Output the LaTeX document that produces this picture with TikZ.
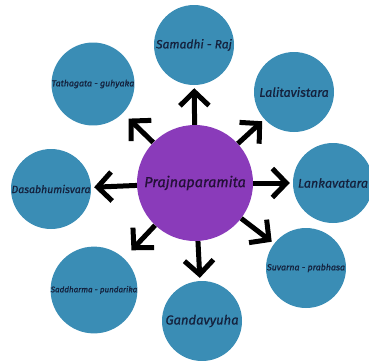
\documentclass[tikz,border=0pt]{standalone}
\usepackage{fontspec}
\newfontfamily\hand{Fira Sans}[ItalicFeatures={FakeBold=0.9}]
\usetikzlibrary{arrows.meta}
\definecolor{tealc}{HTML}{3A8DB5}
\definecolor{purpc}{HTML}{8A3BBA}
\definecolor{inkc}{HTML}{14213D}
\definecolor{pinkc}{HTML}{241038}
\tikzset{
  outer/.style={circle,fill=tealc,minimum size=80pt,inner sep=0pt,text=inkc},
  hub/.style={circle,fill=purpc,minimum size=116pt,inner sep=0pt,text=pinkc,font=\hand\itshape\fontsize{14.5}{16}\selectfont},
  arr/.style={line width=5pt,-{Straight Barb[length=14pt,width=29pt]},shorten >=3pt}
}
\begin{document}
\begin{tikzpicture}[x=1pt,y=-1pt]
\useasboundingbox (0,0) rectangle (369,360);
\node[hub] (c) at (195,183) {Prajnaparamita};
\node[outer,font=\hand\itshape\fontsize{12}{14}\selectfont] (sam) at (194,45) {Samadhi - Raj};
\node[outer,font=\hand\itshape\fontsize{12.5}{14}\selectfont] (lal) at (294,92) {Lalitavistara};
\node[outer,font=\hand\itshape\fontsize{12.5}{14}\selectfont] (lan) at (333,183) {Lankavatara};
\node[outer,font=\hand\itshape\fontsize{8.8}{11}\selectfont] (suv) at (306,268) {Suvarna - prabhasa};
\node[outer,font=\hand\itshape\fontsize{13}{15}\selectfont] (gan) at (202,321) {Gandavyuha};
\node[outer,font=\hand\itshape\fontsize{8}{10}\selectfont] (sad) at (94,290) {Saddharma - pundarika};
\node[outer,font=\hand\itshape\fontsize{10.5}{12}\selectfont] (das) at (51,189) {Dasabhumisvara};
\node[outer,font=\hand\itshape\fontsize{8.8}{10}\selectfont] (tat) at (93,84) {Tathagata - guhyaka};
\draw[arr] (c) -- (sam);
\draw[arr] (c) -- (lal);
\draw[arr] (c) -- (lan);
\draw[arr] (c) -- (suv);
\draw[arr] (c) -- (gan);
\draw[arr,shorten >=11pt] (c) -- (sad);
\draw[arr] (c) -- (das);
\draw[arr,shorten >=8pt] (c) -- (tat);
\end{tikzpicture}
\end{document}
